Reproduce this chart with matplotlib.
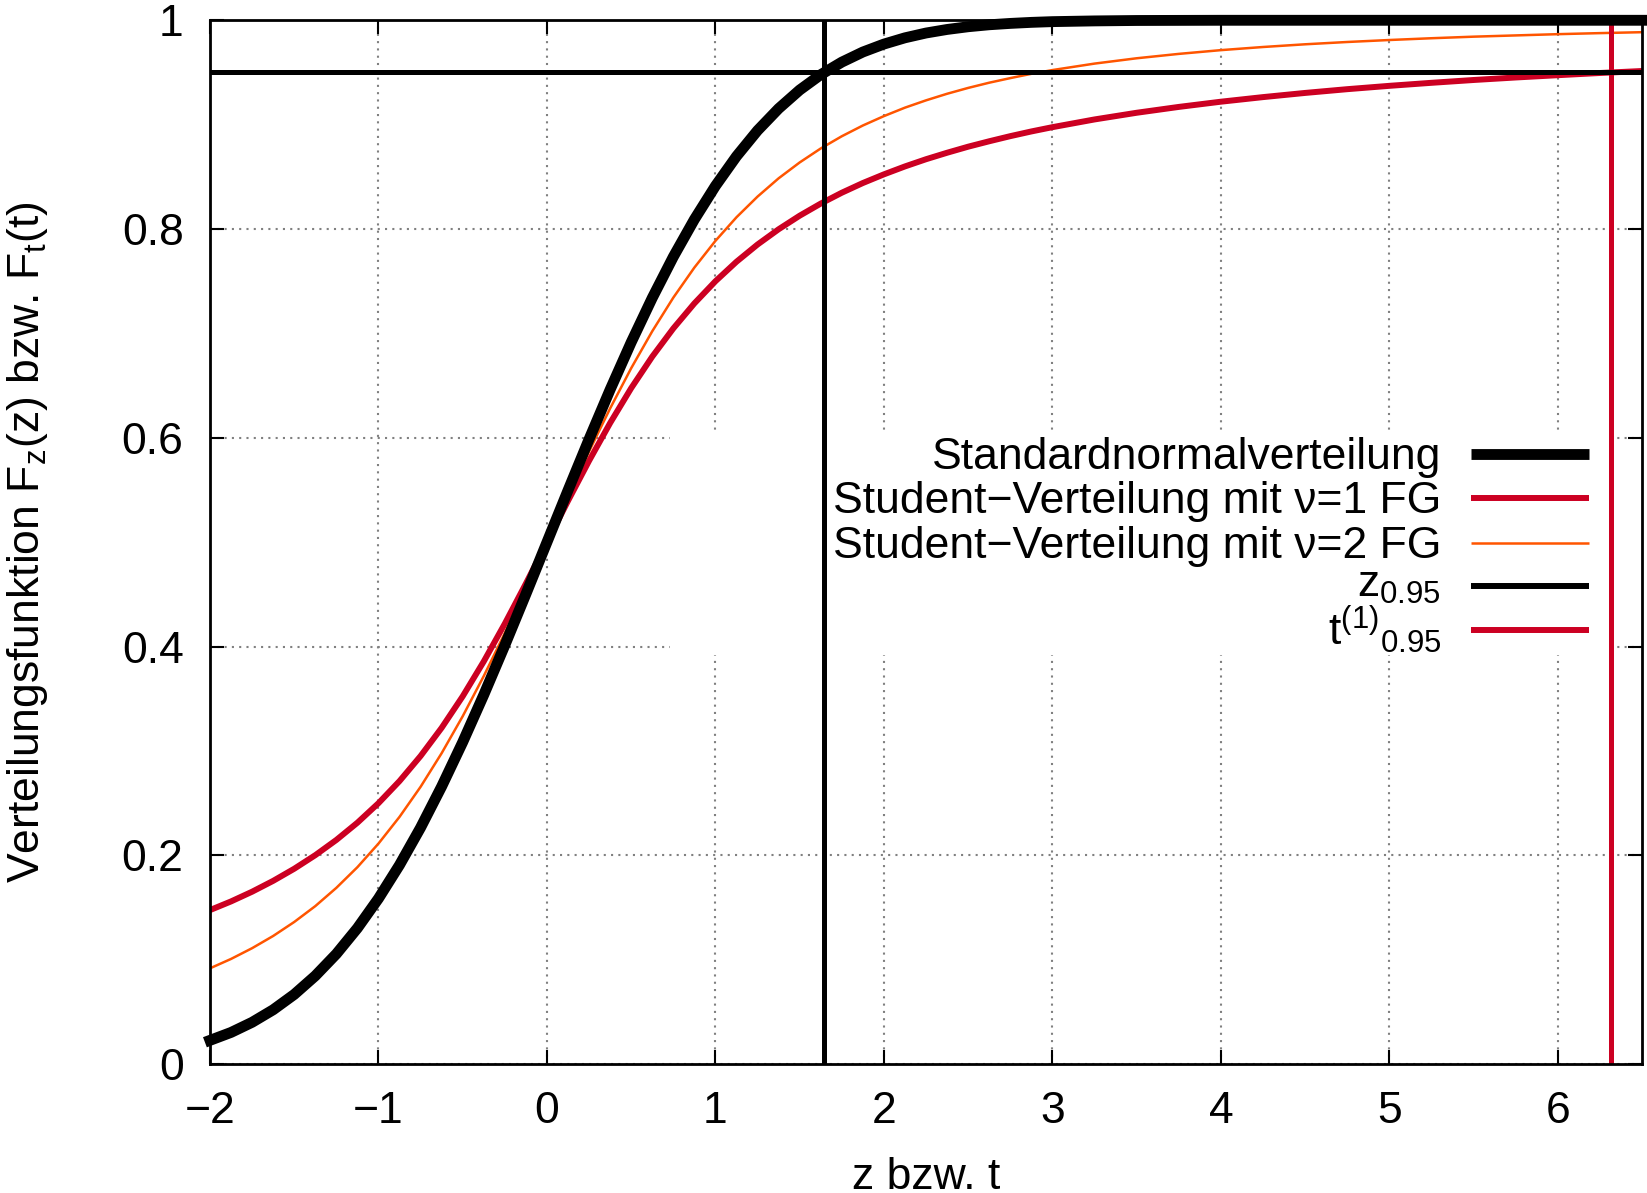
import matplotlib
matplotlib.use("Agg")
from matplotlib import pyplot as plt
from matplotlib.patches import Rectangle

plt.rcParams['font.family'] = ['Liberation Sans', 'DejaVu Sans']
plt.rcParams['mathtext.default'] = 'regular'

# values
x_vals = [-2.0, -1.875, -1.75, -1.625, -1.5, -1.375, -1.25, -1.125, -1.0, -0.875,
          -0.75, -0.625, -0.5, -0.375, -0.25, -0.125, 0.0, 0.125, 0.25, 0.375,
          0.5, 0.625, 0.75, 0.875, 1.0, 1.125, 1.25, 1.375, 1.5, 1.625,
          1.75, 1.875, 2.0, 2.125, 2.25, 2.375, 2.5, 2.625, 2.75, 2.875,
          3.0, 3.25, 3.5, 3.75, 4.0, 4.25, 4.5, 4.75, 5.0, 5.25,
          5.5, 5.75, 6.0, 6.25, 6.5]
normal_cdf = [0.0228, 0.0304, 0.0401, 0.0521, 0.0668, 0.0846, 0.1056, 0.1303, 0.1587, 0.1908,
              0.2266, 0.2660, 0.3085, 0.3538, 0.4013, 0.4503, 0.5, 0.5497, 0.5987, 0.6462,
              0.6915, 0.7340, 0.7734, 0.8092, 0.8413, 0.8697, 0.8944, 0.9154, 0.9332, 0.9479,
              0.9599, 0.9696, 0.9772, 0.9832, 0.9878, 0.9912, 0.9938, 0.9957, 0.9970, 0.9980,
              0.9987, 0.9994, 0.9998, 0.9999, 1.0, 1.0, 1.0, 1.0, 1.0, 1.0,
              1.0, 1.0, 1.0, 1.0, 1.0]
student1_cdf = [0.1476, 0.1559, 0.1652, 0.1756, 0.1872, 0.2002, 0.2148, 0.2313, 0.25, 0.2712,
                0.2952, 0.3222, 0.3524, 0.3858, 0.4220, 0.4604, 0.5, 0.5396, 0.5780, 0.6142,
                0.6476, 0.6778, 0.7048, 0.7288, 0.75, 0.7687, 0.7852, 0.7998, 0.8128, 0.8244,
                0.8348, 0.8441, 0.8524, 0.8600, 0.8669, 0.8731, 0.8789, 0.8841, 0.8890, 0.8935,
                0.8976, 0.9050, 0.9114, 0.9170, 0.9220, 0.9264, 0.9304, 0.9340, 0.9372, 0.9401,
                0.9428, 0.9452, 0.9474, 0.9495, 0.9514]
student2_cdf = [0.0918, 0.1008, 0.1111, 0.1228, 0.1362, 0.1514, 0.1689, 0.1887, 0.2113, 0.2369,
                0.2657, 0.2979, 0.3333, 0.3718, 0.4130, 0.4560, 0.5, 0.5440, 0.5870, 0.6282,
                0.6667, 0.7021, 0.7343, 0.7631, 0.7887, 0.8113, 0.8311, 0.8486, 0.8638, 0.8772,
                0.8889, 0.8992, 0.9082, 0.9163, 0.9233, 0.9296, 0.9352, 0.9402, 0.9446, 0.9487,
                0.9523, 0.9585, 0.9636, 0.9678, 0.9714, 0.9744, 0.9770, 0.9792, 0.9811, 0.9828,
                0.9843, 0.9855, 0.9867, 0.9877, 0.9886]
quantile_level = 0.95
z_095 = 1.645
t1_095 = 6.314

labels = ["Standardnormalverteilung",
          "Student\u2212Verteilung mit \u03bd=1 FG",
          "Student\u2212Verteilung mit \u03bd=2 FG",
          "z$_{0.95}$",
          "t$^{(1)}{}_{0.95}$"]

red = "#cc0022"
orange = "#ff5500"
fs = 32

fig = plt.figure(figsize=(16.47, 11.93), dpi=100)
ax = fig.add_axes([0.1275, 0.108, 0.8695, 0.875])

ax.plot(x_vals, normal_cdf, color="black", lw=7.8, clip_on=False, zorder=3,
        solid_joinstyle="round")
ax.plot(x_vals, student1_cdf, color=red, lw=4.3, solid_joinstyle="round")
ax.plot(x_vals, student2_cdf, color=orange, lw=1.8, solid_joinstyle="round")
ax.axvline(z_095, color="black", lw=3.6)
ax.axvline(t1_095, color=red, lw=3.6)
ax.axhline(quantile_level, color="black", lw=3.6)

ax.set_xlim(-2, 6.5)
ax.set_ylim(0, 1)
ax.set_xticks([-2, -1, 0, 1, 2, 3, 4, 5, 6])
ax.set_yticks([0, 0.2, 0.4, 0.6, 0.8, 1])
ax.set_yticklabels(["0", "0.2", "0.4", "0.6", "0.8", "1"])
ax.tick_params(direction="in", length=10, width=1.5, top=True, right=True,
               labelsize=fs)
ax.tick_params(axis="x", pad=19)
ax.tick_params(axis="y", pad=19)
for s in ax.spines.values():
    s.set_linewidth(2)

ax.grid(True, color="#808080", linestyle=(0, (1, 2.5)), lw=1.5)
ax.set_axisbelow(True)

ax.set_xlabel("z bzw. t", fontsize=fs)
ax.xaxis.set_label_coords(0.5, -0.089)
ax.set_ylabel("Verteilungsfunktion F$_z$(z) bzw. F$_t$(t)", fontsize=fs)
ax.yaxis.set_label_coords(-0.112, 0.5)

# key: white box hides the grid, text right-aligned left of the sample line
ax.add_patch(Rectangle((0.3212, 0.3918), 0.6599, 0.2136, transform=ax.transAxes,
                       facecolor="white", edgecolor="none", zorder=1))
key_y = [0.5845, 0.5423, 0.4990, 0.4578, 0.4155]
key_base = [0.0144, 0.0144, 0.0144, 0.0105, 0.0144]
key_colors = ["black", red, orange, "black", red]
key_widths = [7.8, 4.3, 1.8, 4.3, 4.3]
for lab, y, b, c, w in zip(labels, key_y, key_base, key_colors, key_widths):
    ax.text(0.8598, y - b, lab, transform=ax.transAxes, fontsize=fs,
            ha="right", va="baseline", zorder=4)
    ax.plot([0.8803, 0.9632], [y, y], transform=ax.transAxes, color=c, lw=w,
            solid_capstyle="butt", zorder=4)

fig.savefig("out.png", dpi=100)
